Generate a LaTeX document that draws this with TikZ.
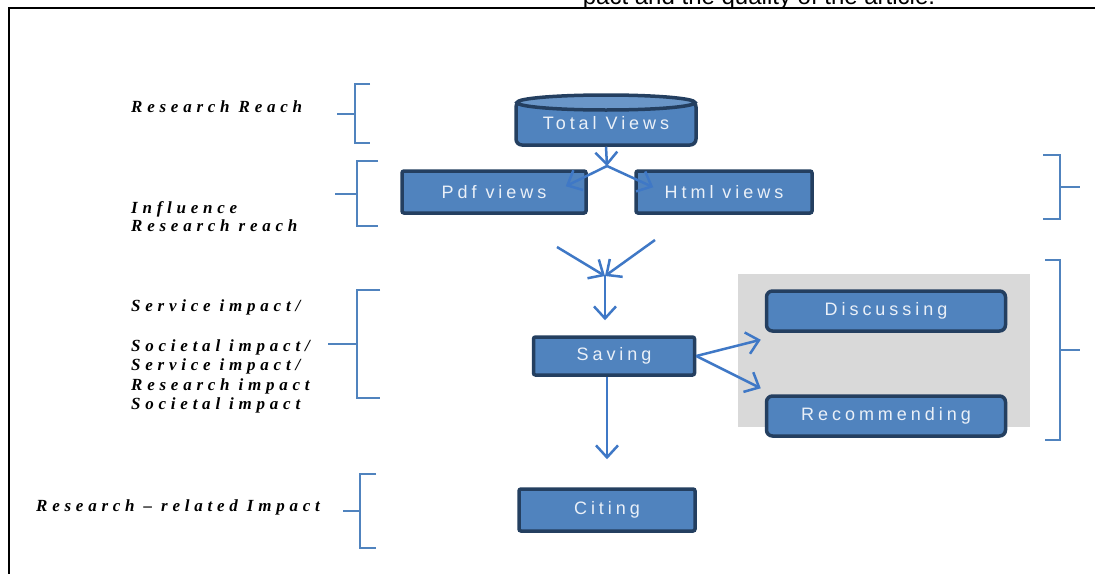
\documentclass[tikz,border=0pt]{standalone}
\usepackage{fontspec}
\setmainfont{Liberation Serif}
\newfontfamily\boxfont{Liberation Sans}[LetterSpace=22]
\newfontfamily\tagfont{Liberation Serif}[LetterSpace=28]
\newfontfamily\capfont{Liberation Sans}
\usetikzlibrary{arrows.meta}

\definecolor{boxblue}{HTML}{5083BE}
\definecolor{boxedge}{HTML}{243F60}
\definecolor{boxtext}{HTML}{EAF0F8}
\definecolor{flowblue}{HTML}{3F78C6}
\definecolor{panel}{HTML}{D9D9D9}

\tikzset{
  metric/.style={draw=boxedge, line width=3.5pt, fill=boxblue, rounded corners=2pt,
    minimum height=42pt, text=boxtext, font=\boxfont\fontsize{18}{21}\selectfont},
  flow/.style={draw=flowblue, line width=2.5pt, -{Straight Barb[length=12pt,width=22pt]}},
  brace/.style={draw=boxblue, line width=1.5pt},
  tag/.style={anchor=base west, inner sep=0pt,
    font=\tagfont\bfseries\itshape\fontsize{17}{19.5}\selectfont}
}

\begin{document}
\begin{tikzpicture}[x=1pt,y=-1pt]
\useasboundingbox (0,0) rectangle (1095,573);
\clip (0,0) rectangle (1095,573);
\fill[white] (0,0) rectangle (1095,573);

\node[anchor=base, font=\capfont\fontsize{24}{28}\selectfont] (caption) at (759,4) {pact and the quality of the article.};
\draw[line width=2pt] (9,590) -- (9,8) -- (1110,8);

\node[fill=panel, minimum width=292pt, minimum height=153pt] (group) at (884,350.5) {};

\node[metric, minimum width=180pt, minimum height=44pt, rounded corners=6pt] (total) at (606,123) {Total Views};
\draw[draw=boxedge, line width=3.5pt, fill=boxblue!85!white] (606,102.5) ellipse [x radius=89, y radius=7.5];
\node[metric, minimum width=184pt] (pdf)  at (494,192) {Pdf views};
\node[metric, minimum width=176pt] (html) at (724,192) {Html views};
\node[metric, minimum width=161pt, minimum height=38pt] (saving) at (614,356) {Saving};
\node[metric, minimum width=239pt, minimum height=40pt, rounded corners=6pt] (disc)  at (886,311) {Discussing};
\node[metric, minimum width=239pt, minimum height=40pt, rounded corners=6pt] (recom) at (886,416) {Recommending};
\node[metric, minimum width=176pt] (citing) at (607,510) {Citing};

\coordinate (split) at (607,166);
\coordinate (lin)   at (557,247);
\coordinate (rin)   at (655,240);
\coordinate (merge) at (605,276);

\draw[flow] (total.south) -- (split);
\draw[flow] (split) -- ([xshift=-22pt,yshift=-17pt]pdf.north east);
\draw[flow] (split) -- ([xshift=19pt,yshift=-18pt]html.north west);
\draw[flow] (lin) -- (merge);
\draw[flow] (rin) -- (merge);
\draw[flow] (merge) -- ([xshift=-9pt,yshift=15pt]saving.north);
\draw[flow] (saving.east) -- ([xshift=-4pt,yshift=-7pt]disc.south west);
\draw[flow] (saving.east) -- ([xshift=-4pt,yshift=6pt]recom.north west);
\draw[flow] ([xshift=-7pt]saving.south) -- ([yshift=28pt]citing.north);

\draw[brace] (370,84) -- (355,84) -- (355,143) -- (370,143) (355,114) -- (337,114);
\draw[brace] (378,161) -- (357,161) -- (357,226) -- (378,226) (357,194) -- (335,194);
\draw[brace] (380,290) -- (357,290) -- (357,398) -- (380,398) (357,344) -- (328,344);
\draw[brace] (376,474) -- (360,474) -- (360,548) -- (376,548) (360,511) -- (343,511);
\draw[brace] (1043,155) -- (1060,155) -- (1060,219) -- (1043,219) (1060,187) -- (1080,187);
\draw[brace] (1045,260) -- (1060,260) -- (1060,440) -- (1045,440) (1060,350) -- (1080,350);

\node[tag] (reach)     at (131,112) {Research Reach};
\node[tag] (influence) at (131,213) {Influence};
\node[tag] (inreach)   at (131,231) {Research reach};
\node[tag] (service)   at (131,311) {Service impact/};
\node[tag] (societal)  at (131,351) {Societal impact/};
\node[tag] (service2)  at (131,370) {Service impact/};
\node[tag] (resimp)    at (131,390) {Research impact};
\node[tag] (societal2) at (131,409) {Societal impact};
\node[tag] (related)   at (36,511)  {Research – related Impact};
\end{tikzpicture}
\end{document}
